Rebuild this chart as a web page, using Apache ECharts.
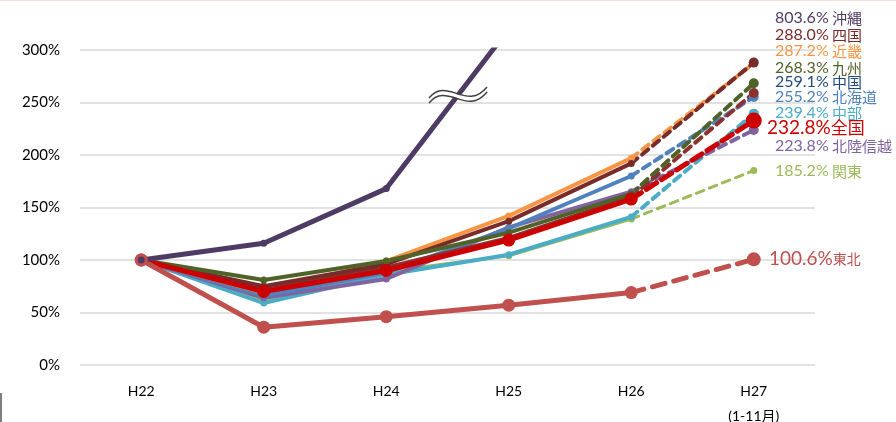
<!DOCTYPE html>
<html>
<head>
<meta charset="utf-8">
<script src="https://cdn.jsdelivr.net/npm/echarts@6/dist/echarts.min.js"></script>
<style>
html,body{margin:0;padding:0;background:#fff;}
#chart{width:896px;height:422px;}
</style>
</head>
<body>
<div id="chart"></div>
<script>
// Year categories (H27 covers Jan–Nov only)
const categories = ['H22', 'H23', 'H24', 'H25', 'H26', 'H27'];
const yTicks = [0, 50, 100, 150, 200, 250, 300];

// Growth index per region, H22 = 100%
const okinawa   = [100, 116, 168, 320, 560, 803.6];
const shikoku   = [100, 75, 96, 137, 192, 288.0];
const kinki     = [100, 69, 99, 142, 197, 287.2];
const kyushu    = [100, 81, 99, 126, 163, 268.3];
const chugoku   = [100, 74, 93, 121, 160, 259.1];
const hokkaido  = [100, 66, 88, 130, 180, 255.2];
const chubu     = [100, 59, 86, 105, 141, 239.4];
const zenkoku   = [100, 70, 90, 119, 158, 232.8];
const hokuriku  = [100, 64, 82, 131, 165, 223.8];
const kanto     = [100, 62, 89, 104, 139, 185.2];
const tohoku    = [100, 36, 46, 57, 69, 100.6];

const regionNames = ['沖縄', '四国', '近畿', '九州', '中国', '北海道', '中部', '全国', '北陸信越', '関東', '東北'];
const regionValues = [okinawa, shikoku, kinki, kyushu, chugoku, hokkaido, chubu, zenkoku, hokuriku, kanto, tohoku];

// Styling per region (same order as regionNames)
const lineColors  = ['#4E3B63', '#772C2A', '#F79646', '#4F6228', '#8B3230', '#4F81BD', '#4BACC6', '#CC0000', '#8064A2', '#9BBB59', '#C0504D'];
const labelColors = ['#4E3B63', '#772C2A', '#F79646', '#4F6228', '#1F497D', '#4F81BD', '#4BACC6', '#CC0000', '#8064A2', '#9BBB59', '#C0504D'];
const lineWidths  = [5, 4, 4, 4, 4, 4, 4, 5, 4, 3, 5];
const dotSizes    = [7, 7, 7, 7, 7, 7, 7, 13, 7, 7, 13];
const endDotSizes = [7, 10, 7, 10, 10, 10, 10, 16, 10, 7, 14];
const dashPattern = [[8, 6], [8, 6], [8, 6], [8, 6], [8, 6], [8, 6], [8, 6], [12, 6], [8, 6], [8, 6], [13, 9]];
// drawing order, back to front
const drawOrder = [9, 6, 8, 5, 2, 4, 1, 3, 7, 10, 0];

const series = [];
drawOrder.forEach(function (i) {
  const vals = regionValues[i];
  const solid = vals.map(function (v, k) { return k <= 4 ? v : null; });
  const dashed = vals.map(function (v, k) {
    if (k === 4) return { value: v, symbolSize: 0 };
    if (k === 5) return v;
    return null;
  });
  series.push({
    name: regionNames[i],
    type: 'line',
    data: solid,
    symbol: 'circle',
    symbolSize: dotSizes[i],
    showAllSymbol: true,
    connectNulls: false,
    clip: true,
    lineStyle: { color: lineColors[i], width: lineWidths[i] },
    itemStyle: { color: lineColors[i] },
    emphasis: { disabled: true },
    animation: false
  });
  series.push({
    name: regionNames[i] + '-est',
    type: 'line',
    data: dashed,
    symbol: 'circle',
    symbolSize: endDotSizes[i],
    showAllSymbol: true,
    connectNulls: false,
    clip: true,
    lineStyle: { color: lineColors[i], width: lineWidths[i], type: dashPattern[i], cap: 'round' },
    itemStyle: { color: lineColors[i] },
    emphasis: { disabled: true },
    animation: false
  });
});

// Right-hand annotations: value + region, stacked top to bottom (y = text centre)
const labelRows = [
  { i: 0,  x: 775, y: 18 },
  { i: 1,  x: 775, y: 35 },
  { i: 2,  x: 775, y: 51 },
  { i: 3,  x: 775, y: 68 },
  { i: 4,  x: 775, y: 82 },
  { i: 5,  x: 775, y: 97 },
  { i: 6,  x: 775, y: 113 },
  { i: 7,  x: 767, y: 128 },
  { i: 8,  x: 775, y: 146 },
  { i: 9,  x: 775, y: 171 },
  { i: 10, x: 769, y: 259 }
];

const graphics = [];
labelRows.forEach(function (r) {
  const v = regionValues[r.i][5].toFixed(1) + '%';
  const name = regionNames[r.i];
  const c = labelColors[r.i];
  let text, rich;
  if (r.i === 7) {
    text = '{v|' + v + '}{n|' + name + '}';
    rich = {
      v: { fontSize: 19, fontFamily: 'Lato, "Noto Sans CJK JP"', fill: c },
      n: { fontSize: 17, fontFamily: '"Noto Sans CJK JP"', fill: c }
    };
  } else if (r.i === 10) {
    text = '{v|' + v + '}{n|' + name + '}';
    rich = {
      v: { fontSize: 19, fontFamily: 'Lato, "Noto Sans CJK JP"', fill: c },
      n: { fontSize: 14, fontFamily: '"Noto Sans CJK JP"', fill: c }
    };
  } else {
    text = '{v|' + v + '} {n|' + name + '}';
    rich = {
      v: { fontSize: 16, fontFamily: 'Lato, "Noto Sans CJK JP"', fill: c },
      n: { fontSize: 15, fontFamily: '"Noto Sans CJK JP"', fill: c }
    };
  }
  graphics.push({
    type: 'text',
    x: r.x,
    y: r.y,
    silent: true,
    z: 100,
    style: { text: text, rich: rich, verticalAlign: 'middle', align: 'left' }
  });
});

// axis-break mark across the 沖縄 line
function wave(dy) {
  return {
    type: 'bezierCurve',
    silent: true,
    z: 101,
    shape: { x1: 429, y1: 98 + dy, cpx1: 447, cpy1: 76 + dy, cpx2: 467, cpy2: 112 + dy, x2: 487, y2: 87 + dy },
    style: { stroke: '#404040', lineWidth: 1.4, fill: null }
  };
}
graphics.push({
  type: 'bezierCurve',
  silent: true,
  z: 100,
  shape: { x1: 429, y1: 100.5, cpx1: 447, cpy1: 78.5, cpx2: 467, cpy2: 114.5, x2: 487, y2: 89.5 },
  style: { stroke: '#ffffff', lineWidth: 3.5, fill: null }
});
graphics.push(wave(0));
graphics.push(wave(5));

// frame marks at the page edges
graphics.push({ type: 'rect', silent: true, shape: { x: 0, y: 0, width: 896, height: 1 }, style: { fill: '#F6DEDE' } });
graphics.push({ type: 'rect', silent: true, shape: { x: 0, y: 393, width: 2, height: 29 }, style: { fill: '#7F7F7F' } });

const chart = echarts.init(document.getElementById('chart'), null, { renderer: 'canvas' });
chart.setOption({
  animation: false,
  backgroundColor: '#ffffff',
  grid: { left: 80, right: 81, top: 50, bottom: 57, containLabel: false, outerBoundsMode: 'none' },
  xAxis: {
    type: 'category',
    data: categories,
    boundaryGap: true,
    axisLine: { show: false },
    axisTick: { show: false },
    axisLabel: {
      margin: 14,
      color: '#000000',
      fontSize: 14,
      fontFamily: 'Lato, "Noto Sans CJK JP"',
      lineHeight: 25,
      formatter: function (v) { return v === 'H27' ? 'H27\n(1-11月)' : v; }
    }
  },
  yAxis: {
    type: 'value',
    min: yTicks[0],
    max: yTicks[yTicks.length - 1],
    interval: yTicks[1] - yTicks[0],
    axisLine: { show: false },
    axisTick: { show: false },
    splitLine: { lineStyle: { color: '#D9D9D9', width: 1.5 } },
    axisLabel: {
      margin: 20,
      color: '#000000',
      fontSize: 15,
      fontFamily: 'Lato, "Noto Sans CJK JP"',
      formatter: '{value}%'
    }
  },
  series: series,
  graphic: graphics
});
</script>
</body>
</html>
